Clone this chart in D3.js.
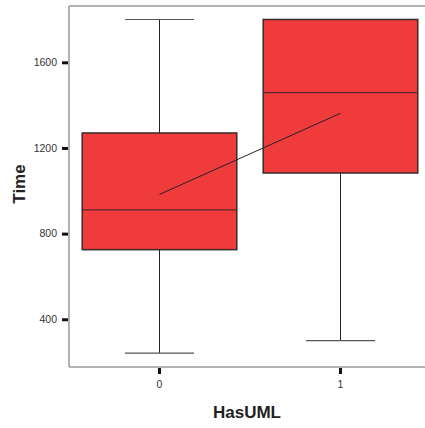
<!DOCTYPE html>
<html><head><meta charset="utf-8">
<script src="https://cdn.jsdelivr.net/npm/d3@7"></script>
<style>body{margin:0;background:#fff}svg{display:block}</style>
</head><body>
<svg id="c" width="425" height="428"></svg>
<script>
const categories = ["0", "1"];
const whiskerLow = [242, 300];
const q1 = [725, 1083];
const median = [911, 1458];
const q3 = [1270, 1800];
const whiskerHigh = [1800, 1800];
const means = [983, 1362];
const yTicks = [400, 800, 1200, 1600];

const svg = d3.select("#c");
const plotLeft = 69, plotRight = 431, plotTop = 6, plotBottom = 367;
const y = d3.scaleLinear().domain([177, 1863]).range([plotBottom, plotTop]);
const x = d3.scaleBand().domain(categories).range([plotLeft, plotRight]).paddingInner(0.146).paddingOuter(0.073);
const cx = d => x(d) + x.bandwidth() / 2;
const boxW = x.bandwidth();
const capW = 69;

// frame
const frame = svg.append("g").attr("stroke", "#9a9a9a").attr("stroke-width", 1.5).attr("fill", "none");
frame.append("line").attr("x1", plotLeft).attr("x2", 425).attr("y1", plotTop).attr("y2", plotTop);
frame.append("line").attr("x1", plotLeft).attr("x2", 425).attr("y1", plotBottom).attr("y2", plotBottom);
frame.append("line").attr("x1", plotLeft).attr("x2", plotLeft).attr("y1", plotTop).attr("y2", plotBottom);

// axes
const yAxis = svg.append("g").attr("transform", `translate(${plotLeft - 1},0)`)
  .call(d3.axisLeft(y).tickValues(yTicks).tickSize(6).tickPadding(5).tickFormat(d3.format("d")));
yAxis.select(".domain").remove();
yAxis.selectAll(".tick line").attr("stroke", "#111").attr("stroke-width", 3);
yAxis.selectAll(".tick text").attr("font-family", "Liberation Sans, Arial, sans-serif").attr("font-size", 10.5).attr("fill", "#333");

const xAxis = svg.append("g").attr("transform", `translate(0,${plotBottom + 1})`)
  .call(d3.axisBottom(x).tickSize(6).tickPadding(7));
xAxis.select(".domain").remove();
xAxis.selectAll(".tick line").attr("stroke", "#111").attr("stroke-width", 3);
xAxis.selectAll(".tick text").attr("font-family", "Liberation Sans, Arial, sans-serif").attr("font-size", 10.5).attr("fill", "#333");

// boxes
const g = svg.append("g");
categories.forEach((c, i) => {
  const xc = cx(c);
  g.append("line").attr("x1", xc).attr("x2", xc).attr("y1", y(whiskerHigh[i])).attr("y2", y(q3[i]))
    .attr("stroke", "#222").attr("stroke-width", 1);
  g.append("line").attr("x1", xc).attr("x2", xc).attr("y1", y(q1[i])).attr("y2", y(whiskerLow[i]))
    .attr("stroke", "#222").attr("stroke-width", 1);
  g.append("line").attr("x1", xc - capW / 2).attr("x2", xc + capW / 2).attr("y1", y(whiskerHigh[i])).attr("y2", y(whiskerHigh[i]))
    .attr("stroke", "#555").attr("stroke-width", 1.2);
  g.append("line").attr("x1", xc - capW / 2).attr("x2", xc + capW / 2).attr("y1", y(whiskerLow[i])).attr("y2", y(whiskerLow[i]))
    .attr("stroke", "#555").attr("stroke-width", 1.2);
  g.append("rect").attr("x", xc - boxW / 2).attr("width", boxW)
    .attr("y", y(q3[i])).attr("height", y(q1[i]) - y(q3[i]))
    .attr("fill", "#ef3b3c").attr("stroke", "#3a2a2a").attr("stroke-width", 1.5);
  g.append("line").attr("x1", xc - boxW / 2).attr("x2", xc + boxW / 2).attr("y1", y(median[i])).attr("y2", y(median[i]))
    .attr("stroke", "#5a2a2a").attr("stroke-width", 1.2);
});

// mean line
svg.append("path")
  .datum(categories.map((c, i) => [cx(c), y(means[i])]))
  .attr("d", d3.line())
  .attr("fill", "none").attr("stroke", "#222").attr("stroke-width", 1);

// axis titles
svg.append("text").attr("x", 247).attr("y", 418).attr("text-anchor", "middle")
  .attr("font-family", "Liberation Sans, Arial, sans-serif").attr("font-weight", "bold").attr("font-size", 17)
  .attr("fill", "#222").text("HasUML");
svg.append("text").attr("transform", "translate(25,184) rotate(-90)").attr("text-anchor", "middle")
  .attr("font-family", "Liberation Sans, Arial, sans-serif").attr("font-weight", "bold").attr("font-size", 17)
  .attr("fill", "#222").text("Time");
</script>
</body></html>
